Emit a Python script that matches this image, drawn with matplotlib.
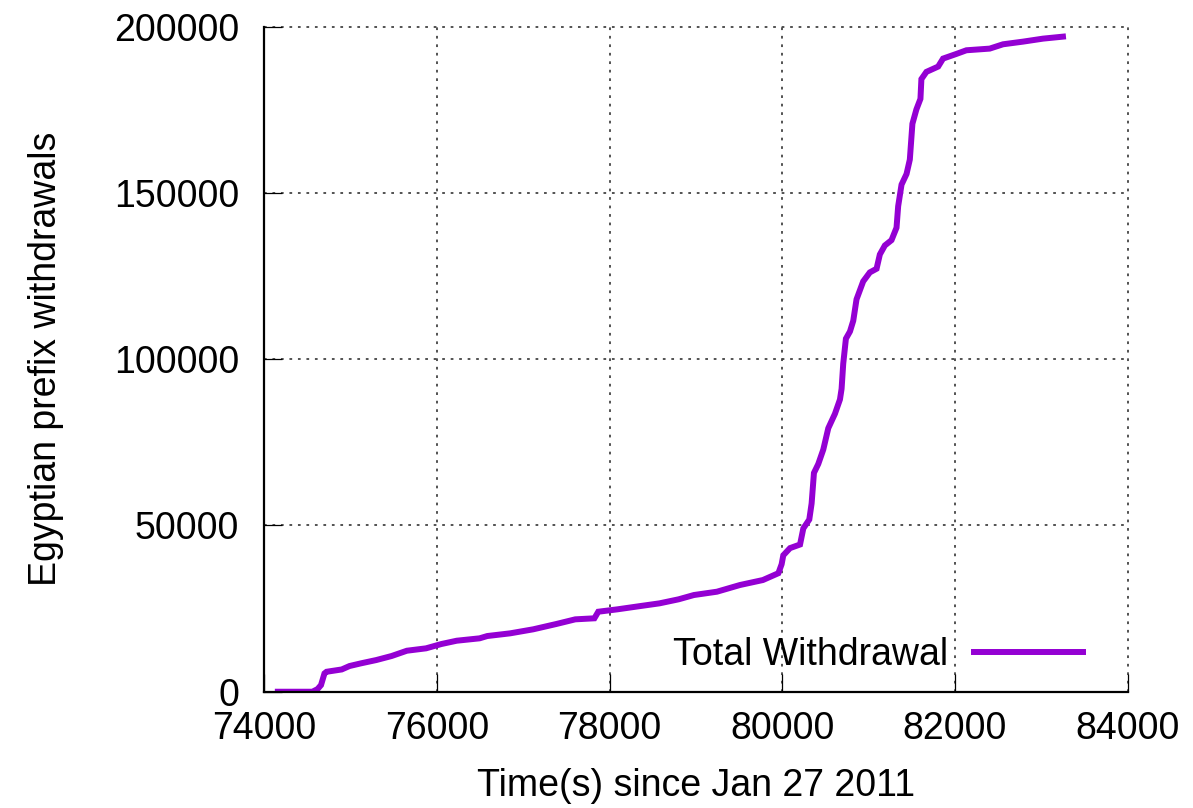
import matplotlib
matplotlib.use("Agg")
import matplotlib.pyplot as plt

# Cumulative withdrawals
times = [74160, 74560, 74620, 74660, 74700, 74724, 74900, 74990, 75123, 75300,
         75477, 75654, 75876, 76054, 76231, 76496, 76585, 76850, 77117, 77383,
         77604, 77825, 77870, 78092, 78358, 78579, 78800, 78977, 79244, 79510,
         79776, 79955, 79993, 80012, 80090, 80206, 80244, 80313, 80340, 80367,
         80417, 80475, 80533, 80610, 80668, 80687, 80706, 80737, 80784, 80822,
         80860, 80937, 81014, 81092, 81130, 81188, 81265, 81323, 81342, 81381,
         81439, 81477, 81507, 81553, 81600, 81611, 81669, 81805, 81862, 82016,
         82132, 82402, 82556, 82788, 83019, 83250]
withdrawals = [0, 0, 800, 2000, 5500, 6000, 6700, 7730, 8540, 9530,
               10740, 12330, 13050, 14350, 15340, 16060, 16750, 17560, 18770, 20360,
               21770, 22080, 24060, 24780, 25770, 26580, 27790, 29080, 30080, 32090,
               33590, 35640, 38350, 41020, 43190, 44270, 49110, 51790, 56630, 65800,
               68480, 72810, 79250, 83580, 87880, 91100, 98650, 106170, 108330, 111550,
               118000, 123400, 126100, 127200, 131500, 134200, 135800, 139550, 146000, 152500,
               155700, 160030, 170800, 175100, 178300, 184240, 186400, 188000, 190400, 191800,
               192900, 193400, 194700, 195500, 196400, 197000]

x_ticks = [74000, 76000, 78000, 80000, 82000, 84000]
y_ticks = [0, 50000, 100000, 150000, 200000]

plt.rcParams['font.family'] = ['Liberation Sans', 'DejaVu Sans']
plt.rcParams['font.size'] = 27

fig = plt.figure(figsize=(11.93, 8.08), dpi=100)
ax = fig.add_axes([0.2213, 0.1439, 0.7240, 0.8231])

ax.plot(times, withdrawals, color='#9400d3', linewidth=4.3,
        solid_joinstyle='miter', label='Total Withdrawal')

ax.set_xlim(74000, 84000)
ax.set_ylim(0, 200000)
ax.set_xticks(x_ticks)
ax.set_yticks(y_ticks)
ax.set_xticklabels([str(t) for t in x_ticks])
ax.set_yticklabels([str(t) for t in y_ticks])

ax.spines['top'].set_visible(False)
ax.spines['right'].set_visible(False)
ax.spines['left'].set_linewidth(1.6)
ax.spines['bottom'].set_linewidth(1.6)
ax.tick_params(axis='both', direction='in', length=13, width=0.9, colors='black')
ax.tick_params(axis='y', pad=18)
ax.tick_params(axis='x', pad=14)

ax.grid(True, color='#444444', linewidth=1.3, linestyle=(0, (1.5, 3.2)))
ax.set_axisbelow(True)
for line in ax.get_xgridlines() + ax.get_ygridlines():
    line.set_clip_on(False)

ax.set_xlabel('Time(s) since Jan 27 2011', labelpad=15)
ax.set_ylabel('Egyptian prefix withdrawals', labelpad=36)

ax.legend(loc='center right', bbox_to_anchor=(0.948, 0.055), frameon=False,
          markerfirst=False, handlelength=2.9, handletextpad=0.7,
          borderaxespad=0, borderpad=0)

fig.savefig('out.png', dpi=100)
